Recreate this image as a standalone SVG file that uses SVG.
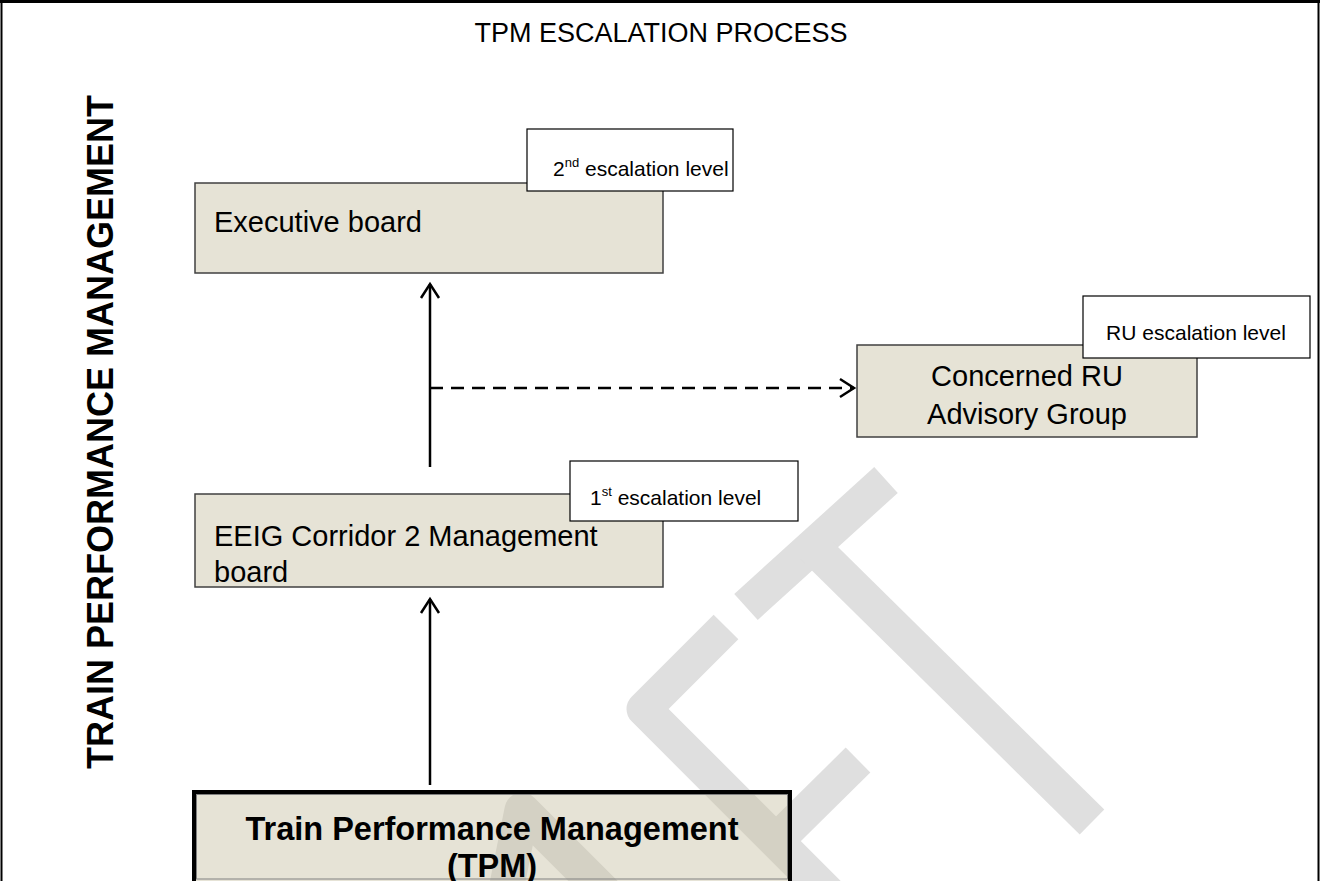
<svg xmlns="http://www.w3.org/2000/svg" width="1320" height="881" viewBox="0 0 1320 881">
<defs>
<style>
.t{font-family:"Liberation Sans",Arial,sans-serif;fill:#000}
.node{fill:rgb(200,193,164);fill-opacity:0.452;stroke:#404040;stroke-width:1.5}
.lbl{fill:#fff;stroke:#000;stroke-width:1.2}
.wm{fill:none;stroke:#dfdfdf;stroke-width:35;stroke-linecap:butt;stroke-linejoin:round}
.conn{fill:none;stroke:#000;stroke-width:2.5}
</style>
<marker id="arr" viewBox="-2 -2 19 22" refX="14" refY="9" markerWidth="19" markerHeight="22" markerUnits="userSpaceOnUse" orient="auto">
<path d="M0,0 L14,9 L0,18" fill="none" stroke="#000" stroke-width="2.5"/>
</marker>
</defs>
<rect width="1320" height="881" fill="#fff"/>
<g id="watermark">
<path class="wm" d="M746,607 L886,480"/>
<path class="wm" d="M812,546 L1092,822"/>
<path class="wm" d="M726,627 L644,709 L840,905"/>
<path class="wm" d="M858,760 L776,841"/>
<path class="wm" d="M503,905 L522,810 L610,898"/>
</g>
<g id="frame">
<path d="M1.5,881 V1.5 H1318.5 V881" fill="none" stroke="#000" stroke-width="2"/>
<line x1="0" y1="1.5" x2="1320" y2="1.5" stroke="#000" stroke-width="3"/>
</g>
<text id="title" class="t" x="661" y="42" font-size="27" text-anchor="middle">TPM ESCALATION PROCESS</text>
<text id="side-title" class="t" font-size="36" font-weight="bold" text-anchor="middle" transform="translate(113,432) rotate(-90)">TRAIN PERFORMANCE MANAGEMENT</text>
<g id="connectors">
<line class="conn" x1="430" y1="467" x2="430" y2="284" marker-end="url(#arr)"/>
<line class="conn" x1="430" y1="785" x2="430" y2="599" marker-end="url(#arr)"/>
<line class="conn" x1="430" y1="388" x2="854" y2="388" stroke-dasharray="13 8" marker-end="url(#arr)"/>
</g>
<g id="executive-board">
<rect class="node" x="195" y="183" width="468" height="90"/>
<text class="t" x="214" y="232" font-size="29">Executive board</text>
</g>
<g id="label-2nd">
<rect class="lbl" x="527" y="129" width="206" height="62"/>
<text class="t" x="553" y="176" font-size="21">2<tspan font-size="13" dy="-9">nd</tspan><tspan dy="9"> escalation level</tspan></text>
</g>
<g id="concerned-ru">
<rect class="node" x="857" y="345" width="340" height="92"/>
<text class="t" x="1027" y="386" font-size="29" text-anchor="middle">Concerned RU</text>
<text class="t" x="1027" y="424" font-size="29" text-anchor="middle">Advisory Group</text>
</g>
<g id="label-ru">
<rect class="lbl" x="1083" y="296" width="227" height="62"/>
<text class="t" x="1196" y="340" font-size="21" text-anchor="middle">RU escalation level</text>
</g>
<g id="eeig-board">
<rect class="node" x="195" y="494" width="468" height="93"/>
<text class="t" x="214" y="546" font-size="29">EEIG Corridor 2 Management</text>
<text class="t" x="214" y="582" font-size="29">board</text>
</g>
<g id="label-1st">
<rect class="lbl" x="570" y="461" width="228" height="60"/>
<text class="t" x="590" y="505" font-size="21">1<tspan font-size="13" dy="-9">st</tspan><tspan dy="9"> escalation level</tspan></text>
</g>
<g id="tpm">
<rect x="194" y="792" width="596" height="92" fill="rgb(200,193,164)" fill-opacity="0.452" stroke="#000" stroke-width="4"/>
<rect x="196.5" y="794.5" width="591" height="84.5" fill="none" stroke="#808080" stroke-width="1"/>
<text class="t" x="492" y="840" font-size="32.5" font-weight="bold" text-anchor="middle">Train Performance Management</text>
<text class="t" x="492" y="877" font-size="32.5" font-weight="bold" text-anchor="middle">(TPM)</text>
</g>
</svg>
